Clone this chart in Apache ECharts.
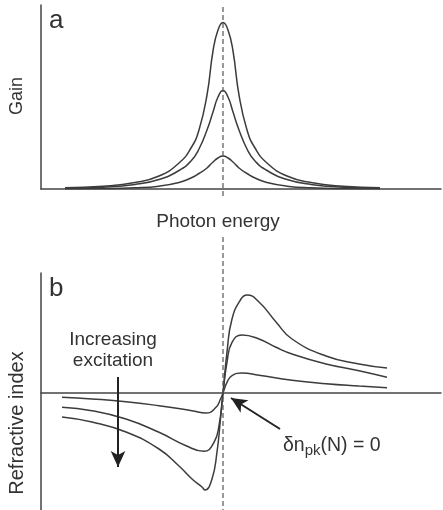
<!DOCTYPE html>
<html>
<head>
<meta charset="utf-8">
<script src="https://cdn.jsdelivr.net/npm/echarts@6/dist/echarts.min.js"></script>
<style>
html, body { margin: 0; padding: 0; background: #fff; }
#main { width: 443px; height: 510px; }
</style>
</head>
<body>
<div id="main"></div>
<script>
// panel a: gain vs photon energy offset from the peak (arbitrary units)
const gainX = [-158, -120, -88, -64, -44, -32, -24, -16, -10, -5, 0, 5, 10, 16, 24, 32, 44, 64, 88, 120, 157];
const gainLow = [0.3, 0.5, 1.2, 2.8, 6.5, 11, 15.5, 21, 27, 31, 33, 31, 27, 21, 15.5, 11, 6.5, 2.8, 1.2, 0.5, 0.3];
const gainMid = [0.8, 1.8, 4.5, 9.5, 18.5, 28, 40, 59, 77, 92, 98.5, 92, 77, 59, 40, 28, 18.5, 9.5, 4.5, 1.8, 0.8];
const gainHigh = [1.2, 2.8, 6.5, 13, 26, 41, 59, 94, 138, 159, 166.5, 159, 138, 94, 59, 41, 26, 13, 6.5, 2.8, 1.2];

// panel b: refractive index change
const idxLowX = [-161, -131, -97, -64, -31, -17, -7, -2.5, 0, 4, 9, 19, 36, 69, 103, 136, 164];
const idxLow = [-4.3, -6, -8.7, -12.7, -17.7, -20, -14.3, -6, 0, 10.7, 17.3, 20, 17.7, 12.7, 9.3, 7, 5.3];
const idxMidX = [-161, -131, -97, -64, -37, -19, -9, -4, 0, 4, 9, 19, 36, 53, 69, 103, 136, 164];
const idxMid = [-14.3, -17.7, -26, -39.3, -52.7, -58.3, -49.3, -32.7, 0, 30.7, 50.7, 58, 54, 45.7, 39, 29, 22.3, 15.7];
const idxHighX = [-161, -131, -97, -64, -44, -31, -21, -18, -11, -6, -2.5, 0, 4, 9, 18, 24, 36, 53, 69, 103, 136, 164];
const idxHigh = [-24, -29, -39, -56, -73, -86, -94, -97, -86, -59, -26, 0, 41, 74, 94, 98, 91, 71, 54, 37, 29, 25];

// annotation arrows (data coords of panel b)
const excitationArrow = [[-105, 16], [-105, -74]];
const zeroArrow = [[57, -36], [8, -5]];

const ink = '#3c3c3c';
const font = '"Liberation Sans", Arial, sans-serif';

function zip(xs, ys) {
    return xs.map((x, i) => [x, ys[i]]);
}

function curve(xs, ys, idx, extra) {
    return Object.assign({
        type: 'line',
        xAxisIndex: idx,
        yAxisIndex: idx,
        data: zip(xs, ys),
        smooth: 0.5,
        showSymbol: false,
        silent: true,
        lineStyle: { color: ink, width: 1.5 }
    }, extra || {});
}

let myChart = echarts.init(document.getElementById('main'));
myChart.setOption({
    animation: false,
    grid: [
        { left: 41, top: 5, width: 400, height: 184, outerBoundsMode: 'none' },
        { left: 41, top: 273, width: 400, height: 238, outerBoundsMode: 'none' }
    ],
    xAxis: [0, 1].map(i => ({
        type: 'value',
        gridIndex: i,
        min: -182,
        max: 218,
        axisLine: { show: true, onZero: true, lineStyle: { color: '#444', width: 1.5 } },
        axisTick: { show: false },
        axisLabel: { show: false },
        splitLine: { show: false }
    })),
    yAxis: [
        { min: 0, max: 184 },
        { min: -118, max: 120 }
    ].map((r, i) => ({
        type: 'value',
        gridIndex: i,
        min: r.min,
        max: r.max,
        axisLine: { show: true, onZero: false, lineStyle: { color: '#444', width: 1.5 } },
        axisTick: { show: false },
        axisLabel: { show: false },
        splitLine: { show: false }
    })),
    series: [
        curve(gainX, gainLow, 0),
        curve(gainX, gainMid, 0),
        curve(gainX, gainHigh, 0),
        curve(idxLowX, idxLow, 1),
        curve(idxMidX, idxMid, 1),
        curve(idxHighX, idxHigh, 1, {
            markLine: {
                silent: true,
                symbol: ['none', 'arrow'],
                symbolSize: [11, 16],
                label: { show: false },
                lineStyle: { color: '#222', width: 2, type: 'solid' },
                data: [
                    [{ coord: excitationArrow[0] }, { coord: excitationArrow[1] }],
                    [{ coord: zeroArrow[0] }, { coord: zeroArrow[1] }]
                ]
            }
        }),
        // dashed line through the peak energy
        curve([0, 0], [182, -8], 0, { smooth: false, clip: false, lineStyle: { color: '#555', width: 1.2, type: [5, 3] } }),
        curve([0, 0], [156, -118], 1, { smooth: false, clip: false, lineStyle: { color: '#555', width: 1.2, type: [5, 3] } })
    ],
    graphic: [
        { type: 'text', left: 49, top: 8, style: { text: 'a', font: '26px ' + font, fill: '#333' } },
        { type: 'text', left: 49, top: 276, style: { text: 'b', font: '26px ' + font, fill: '#333' } },
        { type: 'text', x: 17, y: 96, rotation: Math.PI / 2, style: { text: 'Gain', font: '18px ' + font, fill: '#333', align: 'center', verticalAlign: 'middle' } },
        { type: 'text', x: 17, y: 423, rotation: Math.PI / 2, style: { text: 'Refractive index', font: '20px ' + font, fill: '#333', align: 'center', verticalAlign: 'middle' } },
        { type: 'text', x: 218, y: 222, style: { text: 'Photon energy', font: '19px ' + font, fill: '#333', align: 'center', verticalAlign: 'middle' } },
        { type: 'text', x: 113, y: 340, style: { text: 'Increasing', font: '19px ' + font, fill: '#333', align: 'center', verticalAlign: 'middle' } },
        { type: 'text', x: 113, y: 361, style: { text: 'excitation', font: '19px ' + font, fill: '#333', align: 'center', verticalAlign: 'middle' } },
        {
            type: 'text', x: 283, y: 446,
            style: {
                text: '{m|δn}{s|pk}{m|(N) = 0}',
                verticalAlign: 'middle',
                rich: {
                    m: { font: '19.5px ' + font, fill: '#333', lineHeight: 22 },
                    s: { font: '15px ' + font, fill: '#333', lineHeight: 16, padding: [9, 0, 0, 0] }
                }
            }
        }
    ]
});
</script>
</body>
</html>
